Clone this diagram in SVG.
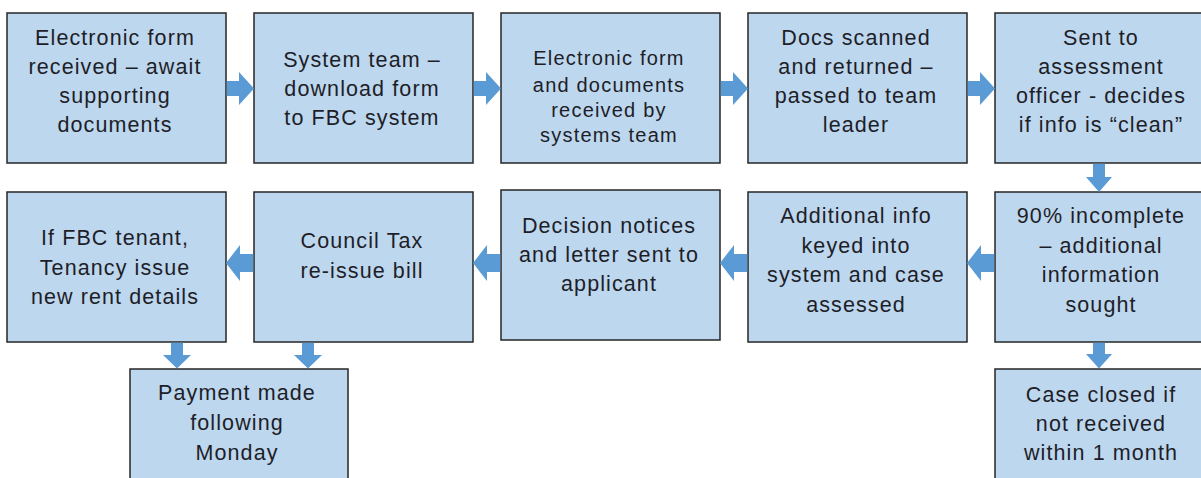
<svg xmlns="http://www.w3.org/2000/svg" width="1201" height="478" viewBox="0 0 1201 478">
<style>
.box{fill:#BDD7EE;stroke:#262626;stroke-width:1.5}
.arr{fill:#5B9BD5}
text{font-family:"Liberation Sans",Arial,sans-serif;font-size:21.5px;letter-spacing:1.1px;fill:#1e1e28;text-anchor:middle}
.sm{font-size:20px;letter-spacing:1.2px}
</style>
<rect width="1201" height="478" fill="#ffffff"/>
<g id="n1"><rect class="box" x="7" y="13" width="219" height="150"/>
<text x="115" y="45">Electronic form</text><text x="115" y="74">received – await</text><text x="115" y="102.5">supporting</text><text x="115" y="131.5">documents</text></g>
<g id="n2"><rect class="box" x="254" y="13" width="219" height="150"/>
<text x="362" y="66.5">System team –</text><text x="362" y="95.5">download form</text><text x="362" y="125">to FBC system</text></g>
<g id="n3"><rect class="box" x="501" y="13" width="219" height="150"/>
<text class="sm" x="609" y="65">Electronic form</text><text class="sm" x="609" y="91.5">and documents</text><text class="sm" x="609" y="116.5">received by</text><text class="sm" x="609" y="141.5">systems team</text></g>
<g id="n4"><rect class="box" x="748" y="13" width="219" height="150"/>
<text x="856" y="45">Docs scanned</text><text x="856" y="74">and returned –</text><text x="856" y="103">passed to team</text><text x="856" y="131.5">leader</text></g>
<g id="n5"><rect class="box" x="995" y="13" width="217" height="150"/>
<text x="1101" y="45">Sent to</text><text x="1101" y="74">assessment</text><text x="1101" y="103">officer - decides</text><text x="1101" y="131.5">if info is “clean”</text></g>
<g id="n6"><rect class="box" x="7" y="192" width="219" height="150"/>
<text x="115" y="245">If FBC tenant,</text><text x="115" y="275">Tenancy issue</text><text x="115" y="304">new rent details</text></g>
<g id="n7"><rect class="box" x="254" y="192" width="219" height="150"/>
<text x="362" y="248">Council Tax</text><text x="362" y="278">re-issue bill</text></g>
<g id="n8"><rect class="box" x="501" y="190" width="219" height="150"/>
<text x="609" y="233">Decision notices</text><text x="609" y="262">and letter sent to</text><text x="609" y="291">applicant</text></g>
<g id="n9"><rect class="box" x="748" y="192" width="219" height="150"/>
<text x="856" y="223">Additional info</text><text x="856" y="252.5">keyed into</text><text x="856" y="282">system and case</text><text x="856" y="311.5">assessed</text></g>
<g id="n10"><rect class="box" x="995" y="192" width="217" height="150"/>
<text x="1101" y="223">90% incomplete</text><text x="1101" y="252.5">– additional</text><text x="1101" y="282">information</text><text x="1101" y="311.5">sought</text></g>
<g id="n11"><rect class="box" x="130" y="369" width="218" height="150"/>
<text x="237" y="400">Payment made</text><text x="237" y="430">following</text><text x="237" y="460">Monday</text></g>
<g id="n12"><rect class="box" x="995" y="369" width="217" height="150"/>
<text x="1101" y="401.5">Case closed if</text><text x="1101" y="431">not received</text><text x="1101" y="460">within 1 month</text></g>
<g id="connectors">
<path class="arr" d="M226.8,81 H239 V72 L254,88.5 L239,105 V96 H226.8 Z"/>
<path class="arr" d="M473.8,81 H486 V72 L501,88.5 L486,105 V96 H473.8 Z"/>
<path class="arr" d="M720.8,81 H733 V72 L748,88.5 L733,105 V96 H720.8 Z"/>
<path class="arr" d="M967.8,81 H980 V72 L995,88.5 L980,105 V96 H967.8 Z"/>
<path class="arr" d="M1093,163.8 H1105 V177 H1112 L1099,192 L1086,177 H1093 Z"/>
<path class="arr" d="M994.2,254 H981 V245 L967,263 L981,281 V272 H994.2 Z"/>
<path class="arr" d="M747.2,254 H734 V245 L720,263 L734,281 V272 H747.2 Z"/>
<path class="arr" d="M500.2,254 H487 V245 L473,263 L487,281 V272 H500.2 Z"/>
<path class="arr" d="M253.2,254 H240 V245 L226,263 L240,281 V272 H253.2 Z"/>
<path class="arr" d="M1093,342.8 H1105 V354 H1112 L1099,368.5 L1086,354 H1093 Z"/>
<path class="arr" d="M171,342.8 H183 V355 H191 L177,368.5 L163,355 H171 Z"/>
<path class="arr" d="M302,342.8 H314 V355 H322 L308,368.5 L294,355 H302 Z"/>
</g>
</svg>
